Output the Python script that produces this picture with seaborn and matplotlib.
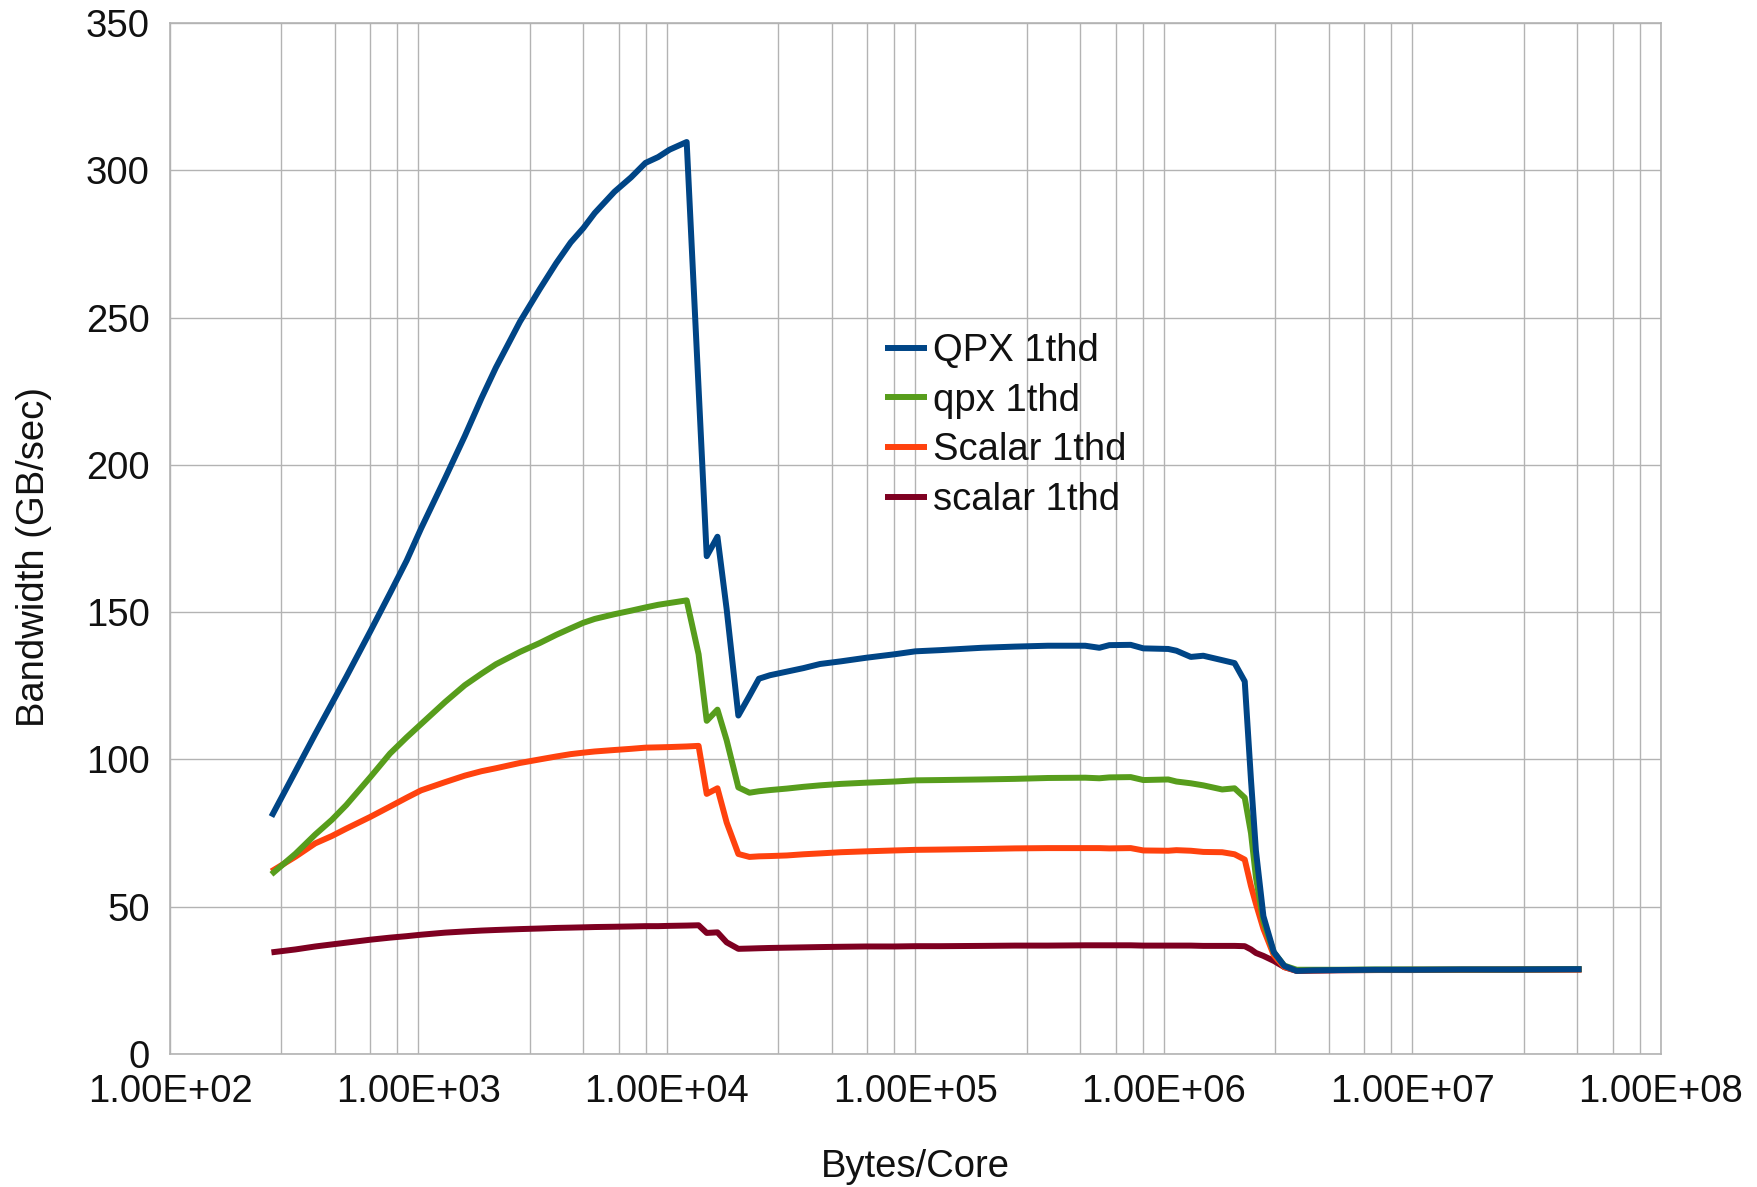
import numpy as np
import pandas as pd
import matplotlib
matplotlib.use("Agg")
import matplotlib.pyplot as plt
from matplotlib.ticker import FixedLocator, FuncFormatter, NullFormatter
import seaborn as sns

# ---------------- data ----------------
bytes_per_core = [
    256, 320, 384, 448, 512, 640, 768, 896, 1024, 1280, 1536, 1792, 2048, 2560,
    3072, 3584, 4096, 4608, 5120, 6144, 7168, 8192, 9216, 10240, 12000, 13400,
    14450, 15960, 17380, 19370, 21480, 23440, 26000, 30340, 35400, 41300, 50100,
    63100, 82400, 100000, 125900, 184500, 251200, 341200, 481900, 549500, 602600,
    734500, 826000, 1040000, 1122000, 1282000, 1439000, 1714000, 1923000, 2113000,
    2239000, 2344000, 2512000, 2767000, 3048000, 3420000, 3981000, 5012000,
    7079000, 10000000, 15850000, 25120000, 47900000,
]

qpx_upper = [
    80.6, 96.0, 108.6, 119.0, 128.0, 143.5, 156.4, 167.5, 178.4, 195.5, 209.8, 222.6, 233.0, 248.6,
    259.6, 268.5, 275.5, 280.4, 285.5, 292.7, 297.6, 302.5, 304.5, 307.0, 309.6, 226.0,
    169.0, 175.6, 151.0, 114.9, 121.6, 127.4, 128.6, 129.8, 131.0, 132.4, 133.3,
    134.5, 135.7, 136.7, 137.1, 137.9, 138.3, 138.6, 138.6, 137.9, 138.8,
    138.9, 137.7, 137.5, 136.9, 134.8, 135.2, 133.7, 132.7, 126.5,
    93.0, 69.0, 46.8, 34.6, 29.9, 28.2, 28.4, 28.5,
    28.6, 28.6, 28.7, 28.7, 28.8,
]

qpx_lower = [
    61.0, 68.0, 74.5, 79.5, 84.5, 94.0, 102.0, 107.5, 112.0, 119.5, 125.2, 129.1, 132.3, 136.5,
    139.5, 142.3, 144.5, 146.4, 147.7, 149.3, 150.5, 151.6, 152.5, 153.1, 154.0, 135.7,
    113.1, 116.9, 106.5, 90.5, 88.7, 89.2, 89.6, 90.1, 90.7, 91.2, 91.7,
    92.1, 92.5, 92.9, 93.0, 93.2, 93.4, 93.7, 93.8, 93.6, 93.9,
    94.0, 93.0, 93.2, 92.5, 91.9, 91.2, 89.8, 90.2, 87.0,
    75.0, 60.0, 45.0, 34.5, 30.0, 28.6, 28.6, 28.6,
    28.7, 28.7, 28.7, 28.7, 28.8,
]

scalar_upper = [
    62.0, 67.0, 71.5, 74.0, 76.5, 80.5, 84.0, 87.0, 89.5, 92.3, 94.5, 96.0, 97.0, 98.8,
    100.0, 101.0, 101.8, 102.3, 102.7, 103.2, 103.6, 104.0, 104.1, 104.2, 104.4, 104.6,
    88.3, 90.2, 78.6, 67.9, 66.9, 67.1, 67.2, 67.4, 67.8, 68.1, 68.5,
    68.8, 69.1, 69.3, 69.4, 69.6, 69.8, 69.9, 69.9, 69.9, 69.8,
    69.9, 69.1, 69.0, 69.2, 69.0, 68.6, 68.5, 67.8, 66.0,
    57.0, 51.0, 42.5, 33.5, 29.5, 28.3, 28.4, 28.5,
    28.5, 28.6, 28.6, 28.7, 28.7,
]

scalar_lower = [
    34.5, 35.5, 36.5, 37.2, 37.8, 38.8, 39.5, 40.0, 40.5, 41.2, 41.6, 41.9, 42.1, 42.4,
    42.6, 42.8, 42.9, 43.0, 43.1, 43.2, 43.3, 43.4, 43.4, 43.5, 43.6, 43.7,
    41.1, 41.3, 37.9, 35.7, 35.8, 35.9, 36.0, 36.1, 36.2, 36.3, 36.4,
    36.5, 36.5, 36.6, 36.6, 36.7, 36.8, 36.8, 36.9, 36.9, 36.9,
    36.9, 36.8, 36.8, 36.8, 36.8, 36.7, 36.7, 36.7, 36.6,
    35.5, 34.3, 33.3, 31.6, 29.5, 28.2, 28.3, 28.4,
    28.5, 28.5, 28.6, 28.6, 28.7,
]

series_names = ["QPX 1thd", "qpx 1thd", "Scalar 1thd", "scalar 1thd"]
series_values = [qpx_upper, qpx_lower, scalar_upper, scalar_lower]
series_colors = ["#004586", "#579d1c", "#ff420e", "#7e0021"]

x_major = [1e2, 1e3, 1e4, 1e5, 1e6, 1e7, 1e8]
minor_steps = [2.8, 4.6, 6.4, 8.2]
y_major = [0, 50, 100, 150, 200, 250, 300, 350]

# ---------------- figure ----------------
sns.set_style("white")
plt.rcParams["font.family"] = ["Liberation Sans", "DejaVu Sans"]

W, H = 1758, 1187
fig = plt.figure(figsize=(W / 100, H / 100), dpi=100)
ax = fig.add_axes([170 / W, 1 - 1054 / H, (1661 - 170) / W, (1054 - 23) / H])

grid_c = "#b3b3b3"
text_c = "#111111"
fs = 27.5

# draw bottom series first so that the blue line is on top
for name, vals, col in reversed(list(zip(series_names, series_values, series_colors))):
    d = pd.DataFrame({"bytes": bytes_per_core, "bw": vals})
    sns.lineplot(data=d, x="bytes", y="bw", ax=ax, color=col, linewidth=4.3,
                 label=name, estimator=None, sort=False)
for ln in ax.get_lines():
    ln.set_solid_joinstyle("round")
    ln.set_solid_capstyle("butt")

ax.set_xscale("log")
ax.set_xlim(1e2, 1e8)
ax.set_ylim(0, 350)

minor = [m * d for d in x_major[:-1] for m in minor_steps]
ax.xaxis.set_major_locator(FixedLocator(x_major))
ax.xaxis.set_minor_locator(FixedLocator(minor))
ax.xaxis.set_major_formatter(FuncFormatter(lambda v, p: f"{v:.2E}"))
ax.xaxis.set_minor_formatter(NullFormatter())
ax.yaxis.set_major_locator(FixedLocator(y_major))

ax.grid(True, which="major", axis="both", color=grid_c, linewidth=1.0)
ax.grid(True, which="minor", axis="x", color=grid_c, linewidth=1.0)
ax.set_axisbelow(True)
for s in ax.spines.values():
    s.set_color(grid_c)
    s.set_linewidth(1.2)

ax.tick_params(axis="both", which="major", direction="out", length=8, width=1.2,
               color=grid_c, labelsize=fs, labelcolor=text_c, pad=6.5)
ax.tick_params(axis="x", which="minor", length=0)
ax.tick_params(axis="x", which="major", pad=6.5)

ax.set_xlabel("Bytes/Core", fontsize=fs, color=text_c, labelpad=28)
ax.set_ylabel("Bandwidth (GB/sec)", fontsize=fs, color=text_c, labelpad=24.5)
ax.yaxis.label.set_y(0.482)

handles, labels = ax.get_legend_handles_labels()
order = [labels.index(n) for n in series_names]
leg = ax.legend([handles[i] for i in order], [labels[i] for i in order],
                loc="upper left", bbox_to_anchor=(885 / W, 1 - 333 / H),
                bbox_transform=fig.transFigure, frameon=False, fontsize=fs,
                handlelength=1.1, handletextpad=0.15, labelspacing=0.36,
                borderpad=0, borderaxespad=0)
for t in leg.get_texts():
    t.set_color(text_c)

fig.savefig("out.png", dpi=100)
